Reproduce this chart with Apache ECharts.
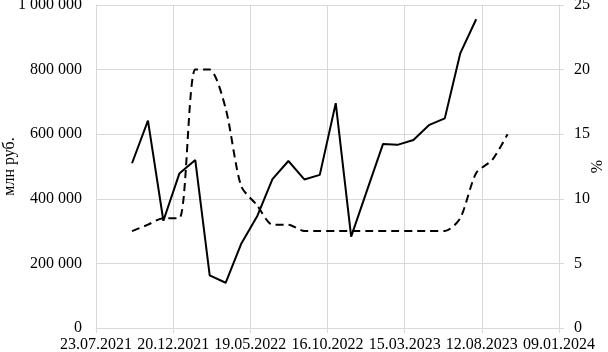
<!DOCTYPE html>
<html>
<head>
<meta charset="utf-8">
<script src="https://cdn.jsdelivr.net/npm/echarts@6/dist/echarts.min.js"></script>
<style>html,body{margin:0;padding:0;background:#fff;}#c{width:608px;height:352px;}</style>
</head>
<body>
<div id="c"></div>
<script>
// Axis start date and tick labels
var axisStart = '2021-07-23';
var xTickLabels = ['23.07.2021','20.12.2021','19.05.2022','16.10.2022','15.03.2023','12.08.2023','09.01.2024'];
// Solid series (млн руб.), monthly
var debtDates = ['2021-10-01','2021-11-01','2021-12-01','2022-01-01','2022-02-01','2022-03-01','2022-04-01','2022-05-01','2022-06-01','2022-07-01','2022-08-01','2022-09-01','2022-10-01','2022-11-01','2022-12-01','2023-01-01','2023-02-01','2023-03-01','2023-04-01','2023-05-01','2023-06-01','2023-07-01','2023-08-01'];
var debtValues = [510000,642000,332000,478000,520000,163000,140000,260000,345000,461000,517000,460000,474000,696000,283000,427000,570000,567000,582000,628000,649000,850000,956000];
// Dashed series (%), monthly
var rateDates = ['2021-10-01','2021-11-01','2021-12-01','2022-01-01','2022-02-01','2022-03-01','2022-04-01','2022-05-01','2022-06-01','2022-07-01','2022-08-01','2022-09-01','2022-10-01','2022-11-01','2022-12-01','2023-01-01','2023-02-01','2023-03-01','2023-04-01','2023-05-01','2023-06-01','2023-07-01','2023-08-01','2023-09-01','2023-10-01'];
var rateValues = [7.5,8.0,8.5,8.5,20,20,17,11,9.5,8,8,7.5,7.5,7.5,7.5,7.5,7.5,7.5,7.5,7.5,7.5,8.5,12,13,15];

var DAY = 86400000;
function toMs(s){var p=s.split('-');return Date.UTC(+p[0],+p[1]-1,+p[2]);}
var t0 = toMs(axisStart);
function off(s){return Math.round((toMs(s)-t0)/DAY);}
var debtData = debtDates.map(function(d,i){return [off(d), debtValues[i]];});
var rateData = rateDates.map(function(d,i){return [off(d), rateValues[i]];});

function fmtNum(v){return String(v).replace(/\B(?=(\d{3})+(?!\d))/g,' ');}
var font = 'Liberation Serif';
var grid = '#d9d9d9';

var chart = echarts.init(document.getElementById('c'), null, {renderer:'canvas'});
chart.setOption({
  animation:false,
  backgroundColor:'#fff',
  grid:{left:96,right:49,top:5,bottom:24,containLabel:false,outerBoundsMode:'none'},
  xAxis:{
    type:'value',min:0,max:900,interval:150,
    axisLine:{show:true,lineStyle:{color:grid}},
    axisTick:{show:true,length:5,lineStyle:{color:grid}},
    splitLine:{show:true,lineStyle:{color:grid,width:1}},
    axisLabel:{color:'#000',fontFamily:font,fontSize:16,margin:9,hideOverlap:false,
      formatter:function(v){return xTickLabels[Math.round(v/150)] || '';}}
  },
  yAxis:[{
    type:'value',min:0,max:1000000,interval:200000,position:'left',
    name:'млн руб.',nameLocation:'middle',nameGap:78,nameRotate:90,nameMoveOverlap:false,
    nameTextStyle:{color:'#000',fontFamily:font,fontSize:16},
    axisLine:{show:true,lineStyle:{color:grid}},
    axisTick:{show:false},
    splitLine:{show:true,lineStyle:{color:grid,width:1}},
    axisLabel:{color:'#000',fontFamily:font,fontSize:16,margin:14,formatter:fmtNum}
  },{
    type:'value',min:0,max:25,interval:5,position:'right',
    name:'%',nameLocation:'middle',nameGap:31,nameRotate:90,nameMoveOverlap:false,
    nameTextStyle:{color:'#000',fontFamily:font,fontSize:16},
    axisLine:{show:true,lineStyle:{color:grid}},
    axisTick:{show:true,length:5,lineStyle:{color:grid}},
    splitLine:{show:false},
    axisLabel:{color:'#000',fontFamily:font,fontSize:16,margin:15}
  }],
  series:[{
    type:'line',yAxisIndex:0,data:debtData,symbol:'none',
    lineStyle:{color:'#000',width:2,type:'solid'}
  },{
    type:'line',yAxisIndex:1,data:rateData,symbol:'none',smooth:0.25,
    lineStyle:{color:'#000',width:2,type:[8,5]}
  }]
});
</script>
</body>
</html>
